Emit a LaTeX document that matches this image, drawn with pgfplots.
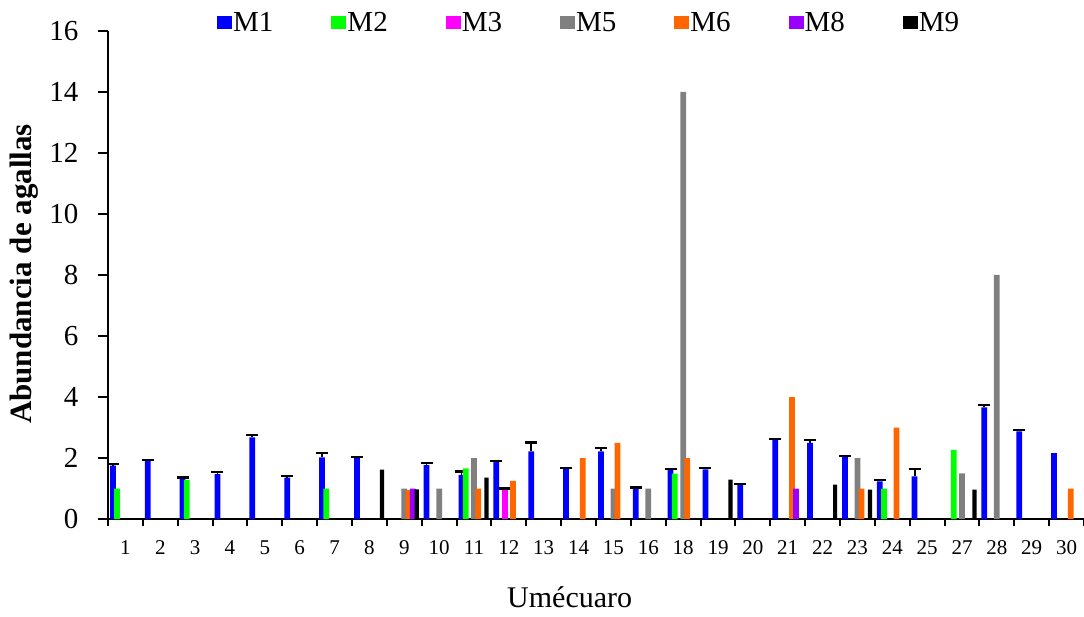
\documentclass[border=0pt]{standalone}
\usepackage{pgfplots}
\pgfplotsset{compat=1.18}
\usepackage{pgfplotstable}
\usepackage{fontspec}
\setmainfont{Liberation Serif}
\definecolor{cMa}{RGB}{0,0,255}
\definecolor{cMb}{RGB}{0,255,0}
\definecolor{cMc}{RGB}{255,0,255}
\definecolor{cMe}{RGB}{128,128,128}
\definecolor{cMf}{RGB}{255,102,0}
\definecolor{cMh}{RGB}{153,0,255}
\definecolor{cMi}{RGB}{0,0,0}
\pgfplotstableread{
x y e
0 1.75 0.05
1 1.90 0.03
2 1.33 0.03
3 1.47 0.06
4 2.68 0.07
5 1.36 0.04
6 2.02 0.15
7 2.00 0.02
9 1.77 0.07
10 1.45 0.11
11 1.88 0.02
12 2.22 0.29
13 1.64 0.03
14 2.22 0.10
15 1.00 0.03
16 1.60 0.04
17 1.63 0.03
18 1.11 0.03
19 2.59 0.03
20 2.50 0.08
21 2.03 0.03
22 1.23 0.04
23 1.40 0.23
25 3.66 0.09
26 2.87 0.05
}\tMa
\pgfplotstableread{
x y
27 2.16
}\tMaa
\pgfplotstableread{
x y
0 1.00
2 1.28
6 1.00
10 1.66
16 1.49
22 1.00
24 2.27
}\tMb
\pgfplotstableread{
x y e
11 1.00 0.0
}\tMc
\pgfplotstableread{
x y
8 1.00
9 1.00
10 2.00
14 1.00
15 1.00
16 14.00
21 2.00
24 1.50
25 8.00
}\tMe
\pgfplotstableread{
x y
8 0.95
10 1.00
11 1.25
13 2.00
14 2.50
16 2.00
19 4.00
21 1.00
22 3.00
27 1.00
}\tMf
\pgfplotstableread{
x y
8 1.00
19 1.00
}\tMh
\pgfplotstableread{
x y
7 1.62
8 0.97
10 1.36
17 1.29
20 1.13
21 0.96
24 0.96
}\tMi
\begin{document}
\begin{tikzpicture}
\begin{axis}[
  scale only axis, width=976pt, height=488pt,
  xmin=-0.5, xmax=27.5, ymin=0, ymax=16,
  ybar, bar width=0.165,
  axis x line=bottom, axis y line=left,
  axis line style={-, line width=2pt, black},
  tick align=outside,
  ytick={0,2,...,16},
  xtick={0,...,27},
  xticklabels={1,2,3,4,5,6,7,8,9,10,11,12,13,14,15,16,18,19,20,21,22,23,24,25,27,28,29,30},
  minor xtick={-0.5,0.5,...,27.5},
  major x tick style={draw=none},
  minor x tick style={black, line width=2pt},
  minor tick length=7pt,
  major tick length=10pt,
  ytick style={black, line width=2pt},
  /pgf/number format/assume math mode=true,
  yticklabel style={font=\fontsize{29}{30}\selectfont, anchor=east, xshift=-16pt},
  xticklabel style={font=\fontsize{21}{22}\selectfont, anchor=north, yshift=-8pt},
  xlabel={Umécuaro},
  xlabel style={font=\fontsize{30}{32}\selectfont, at={(axis description cs:0.473,-0.16)}, anchor=center},
  ylabel={\bfseries Abundancia de agallas},
  ylabel style={font=\fontsize{31}{32}\selectfont, at={(axis description cs:-0.086,0.502)}, anchor=center, rotate=0},
  legend columns=-1,
  legend image code/.code={\path[#1,draw=none] (0pt,-6.5pt) rectangle (15pt,6.5pt);},
  legend style={at={(axis description cs:0.1117,1.0174)}, anchor=west, draw=none, fill=none,
    font=\fontsize{29}{30}\selectfont, inner sep=0pt, nodes={inner sep=1pt},
    /tikz/every even column/.append style={column sep=57pt}},
]
\addplot[fill=cMa, draw=none, bar shift=-0.36,
  error bars/.cd, y dir=plus, y explicit,
  error bar style={black, line width=1.8pt},
  error mark options={rotate=90, mark size=6pt, line width=2.2pt, black}]
  table[x=x, y=y, y error=e] {\tMa};
\addplot[fill=cMb, draw=none, bar shift=-0.24] table[x=x, y=y] {\tMb};
\addplot[fill=cMc, draw=none, bar shift=-0.12,
  error bars/.cd, y dir=plus, y explicit,
  error bar style={black, line width=1.8pt},
  error mark options={rotate=90, mark size=6pt, line width=2.2pt, black}]
  table[x=x, y=y, y error=e] {\tMc};
\addplot[fill=cMe, draw=none, bar shift=0] table[x=x, y=y] {\tMe};
\addplot[fill=cMf, draw=none, bar shift=0.12] table[x=x, y=y] {\tMf};
\addplot[fill=cMh, draw=none, bar shift=0.24] table[x=x, y=y] {\tMh};
\addplot[fill=cMi, draw=none, bar shift=0.36, bar width=0.12] table[x=x, y=y] {\tMi};
\addplot[fill=cMa, draw=none, bar shift=-0.36, forget plot] table[x=x, y=y] {\tMaa};
\legend{M1,M2,M3,M5,M6,M8,M9}
\end{axis}
\pgfresetboundingbox
\path[use as bounding box] ([xshift=-108pt,yshift=-97pt]current axis.south west) rectangle ++(1084pt,616pt);
\end{tikzpicture}
\end{document}
